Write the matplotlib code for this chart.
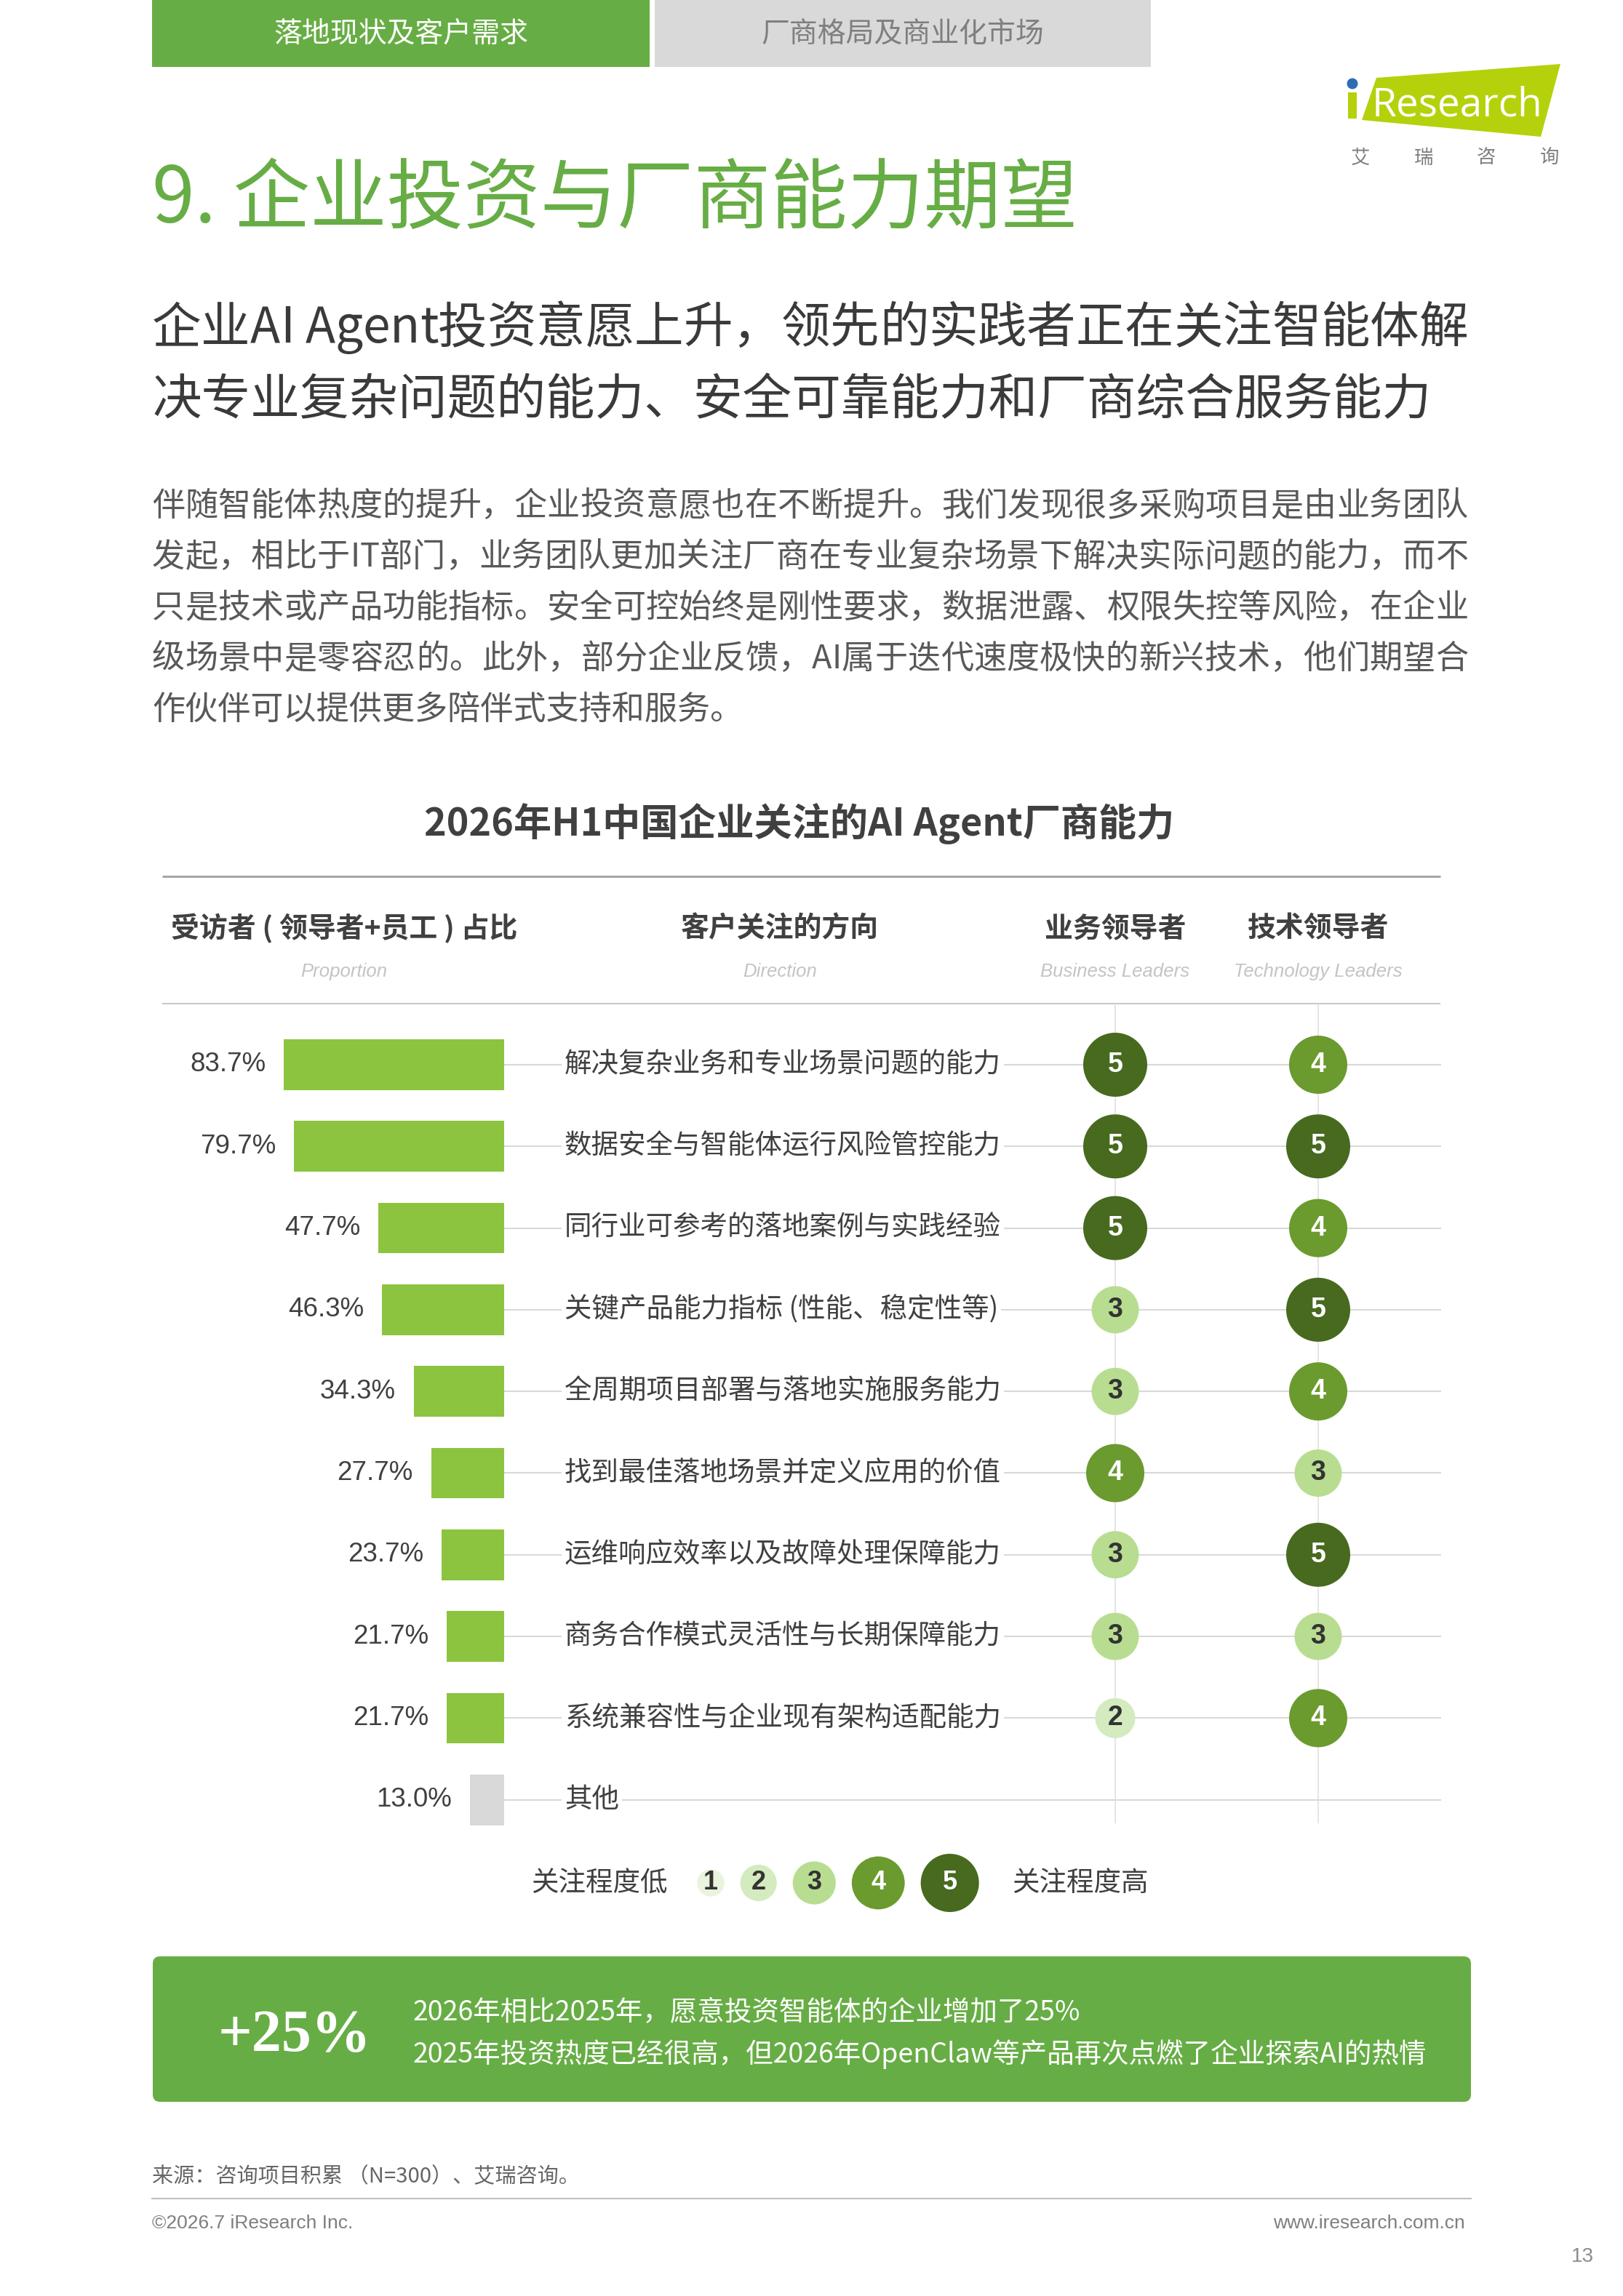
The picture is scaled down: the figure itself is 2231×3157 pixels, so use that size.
import numpy as np
import matplotlib
matplotlib.use('Agg')
import matplotlib.pyplot as plt
from matplotlib.font_manager import FontProperties
from matplotlib.patches import Rectangle, Polygon, FancyBboxPatch, Circle

plt.rcParams['font.family'] = ['Noto Sans CJK SC', 'DejaVu Sans']

# ---- data ----
directions = ['解决复杂业务和专业场景问题的能力', '数据安全与智能体运行风险管控能力',
              '同行业可参考的落地案例与实践经验', '关键产品能力指标 (性能、稳定性等)',
              '全周期项目部署与落地实施服务能力', '找到最佳落地场景并定义应用的价值',
              '运维响应效率以及故障处理保障能力', '商务合作模式灵活性与长期保障能力',
              '系统兼容性与企业现有架构适配能力', '其他']
proportion = [83.7, 79.7, 47.7, 46.3, 34.3, 27.7, 23.7, 21.7, 21.7, 13.0]
business_score = [5, 5, 5, 3, 3, 4, 3, 3, 2, None]
tech_score = [4, 5, 4, 5, 4, 3, 5, 3, 4, None]
levels = [1, 2, 3, 4, 5]

headers = ['受访者 ( 领导者+员工 ) 占比', '客户关注的方向', '业务领导者', '技术领导者']
headers_en = ['Proportion', 'Direction', 'Business Leaders', 'Technology Leaders']

subtitle = ['企业AI Agent投资意愿上升，领先的实践者正在关注智能体解',
            '决专业复杂问题的能力、安全可靠能力和厂商综合服务能力']
body = ['伴随智能体热度的提升，企业投资意愿也在不断提升。我们发现很多采购项目是由业务团队',
        '发起，相比于IT部门，业务团队更加关注厂商在专业复杂场景下解决实际问题的能力，而不',
        '只是技术或产品功能指标。安全可控始终是刚性要求，数据泄露、权限失控等风险，在企业',
        '级场景中是零容忍的。此外，部分企业反馈，AI属于迭代速度极快的新兴技术，他们期望合',
        '作伙伴可以提供更多陪伴式支持和服务。']

# ---- styling ----
W, H = 2231, 3157
GREEN = '#67AD45'
BAR = '#8CC43F'
TXT = '#404040'
level_color = {1: '#E9F4DF', 2: '#D3EBBE', 3: '#B8DD91', 4: '#6B9A2F', 5: '#476A1F'}
level_diam = {1: 41, 2: 55, 3: 65, 4: 80, 5: 88}   # px
num_font = 'Liberation Sans'


def fig_rect(x0, y0, x1, y1):
    return [x0 / W, 1 - y1 / H, (x1 - x0) / W, (y1 - y0) / H]


def msize(d):
    return (d * 0.72) ** 2


fig = plt.figure(figsize=(W / 100, H / 100), dpi=100)
fig.patch.set_facecolor('white')
page = fig.add_axes([0, 0, 1, 1])
page.set_xlim(0, W)
page.set_ylim(H, 0)
page.axis('off')
renderer = fig.canvas.get_renderer()


def justify(ax, x0, x1, y, line, size, **kw):
    # spread the characters so the line fills x0..x1 like the page layout
    fp = FontProperties(family=['Noto Sans CJK SC', 'DejaVu Sans'], size=size)

    def tw(s):
        return renderer.get_text_width_height_descent(s, fp, ismath=False)[0]

    ref = '中'
    w_rr = tw(ref + ref)
    w_r = tw(ref)
    adv = [tw(ref + ch + ref) - w_rr for ch in line]
    lsb = [a - (tw(ch + ref) - w_r) for ch, a in zip(line, adv)]
    extra = (x1 - x0 - sum(adv)) / (len(line) - 1)
    pen = x0
    for ch, a, b in zip(line, adv, lsb):
        if ch != ' ':
            ax.text(pen + b, y, ch, fontproperties=fp, ha='left', va='center', **kw)
        pen += a + extra


# tabs
page.add_patch(Rectangle((209, 0), 684, 92, color=GREEN, lw=0))
page.add_patch(Rectangle((900, 0), 682, 92, color='#D9D9D9', lw=0))
page.text(551, 47, '落地现状及客户需求', fontsize=28, color='white', ha='center', va='center')
page.text(1241, 47, '厂商格局及商业化市场', fontsize=28, color='#7F7F7F', ha='center', va='center')

# logo
page.add_patch(Polygon([(1892, 107), (2145, 88), (2118, 188), (1872, 165)], closed=True,
                       color='#B5D10B', lw=0))
page.add_patch(Rectangle((1853, 127), 12, 36, color='#B5D10B', lw=0))
page.add_patch(Circle((1859, 115), 7.5, color='#2E6DB4', lw=0))
page.text(1886, 160, 'Research', fontsize=39.5, color='white', family='Open Sans', va='baseline')
for ch, x in zip('艾瑞咨询', np.linspace(1870, 2130, 4)):
    page.text(x, 217, ch, fontsize=19, color='#7F7F7F', ha='center', va='center')

# title & subtitle
page.text(209, 276, '9. 企业投资与厂商能力期望', fontsize=76, color=GREEN, va='center')
justify(page, 209, 2018, 452, subtitle[0], 48.7, color='#3A3A3A')
page.text(209, 551, subtitle[1], fontsize=48.7, color='#3A3A3A', va='center')
for k, line in enumerate(body):
    y = 696 + 70 * k
    if k < len(body) - 1:
        justify(page, 209, 2018, y, line, 32.5, color='#595959')
    else:
        page.text(209, y, line, fontsize=32.5, color='#595959', va='center')

# chart title and header
page.text(1099, 1133, '2026年H1中国企业关注的AI Agent厂商能力', fontsize=37.5, weight='bold',
          color=TXT, ha='center', va='center')
page.plot([223, 1980], [1205, 1205], color='#A6A6A6', lw=2.2, solid_capstyle='butt')
page.plot([223, 1980], [1380, 1380], color='#C9C9C9', lw=1.5, solid_capstyle='butt')

# rows geometry
row0, step = 1464, 112.3
col_px = [1533, 1812]
rows = np.arange(len(directions))

hx = [473, 1072, col_px[0], col_px[1]]
for x, h, e in zip(hx, headers, headers_en):
    page.text(x, 1277, h, fontsize=28, weight='bold', color=TXT, ha='center', va='center')
    page.text(x, 1336, e, fontsize=18.5, style='italic', family=num_font, color='#C4C4C4',
              ha='center', va='center')

# ---- bar part ----
bar_right, bar_left, px_per_pct = 693, 230, 3.62
bx = fig.add_axes(fig_rect(bar_left, row0 - step / 2, bar_right,
                           row0 + step * (len(rows) - 0.5)))
bx.set_ylim(len(rows) - 0.5, -0.5)
bx.set_xlim((bar_right - bar_left) / px_per_pct, 0)
bx.axis('off')
bar_colors = [BAR] * (len(rows) - 1) + ['#D9D9D9']
bx.barh(rows, proportion, height=0.62, color=bar_colors, lw=0)
for i, v in zip(rows, proportion):
    bx.annotate(f'{v:.1f}%', xy=(v, i), xytext=(-18, 0), textcoords='offset points',
                ha='right', va='center', fontsize=26.5, family=num_font, color=TXT)

# ---- score part ----
d_top, d_bot, d_right = 1380, 2507, 1981
cs = col_px[1] - col_px[0]
dx = fig.add_axes(fig_rect(bar_right, d_top, d_right, d_bot))
dx.set_xlim(-(col_px[0] - bar_right) / cs, 1 + (d_right - col_px[1]) / cs)
dx.set_ylim((d_bot - row0) / step, (d_top - row0) / step)
dx.axis('off')
x0, x1 = dx.get_xlim()
dx.hlines(rows, x0, x1, color='#D9D9D9', lw=1.5, zorder=1)
for c in (0, 1):
    dx.axvline(c, color='#E0E0E0', lw=1.2, zorder=1)
for i, lab in zip(rows, directions):
    dx.annotate(lab, xy=(x0, i), xytext=(83 * 0.72, 0), textcoords='offset points',
                ha='left', va='center', fontsize=27, color=TXT, zorder=2,
                bbox=dict(boxstyle='square,pad=0.1', fc='white', ec='none'))
for c, scores in enumerate([business_score, tech_score]):
    for i, s in zip(rows, scores):
        if s is None:
            continue
        dx.scatter(c, i, s=msize(level_diam[s]), color=level_color[s], edgecolors='none',
                   zorder=3, clip_on=False)
        dx.text(c, i, str(s), fontsize=27, weight='bold', family=num_font,
                color='white' if s >= 4 else '#333333', ha='center', va='center', zorder=4)

# ---- legend ----
leg_y, leg_gap, leg_scale = 2589, 22, 0.91
lx = [977]
for a, b in zip(levels[:-1], levels[1:]):
    lx.append(lx[-1] + (level_diam[a] + level_diam[b]) * leg_scale / 2 + leg_gap)
for x, lv in zip(lx, levels):
    page.scatter(x, leg_y, s=msize(level_diam[lv] * leg_scale), color=level_color[lv],
                 edgecolors='none', zorder=3)
    page.text(x, leg_y, str(lv), fontsize=26, weight='bold', family=num_font,
              color='white' if lv >= 4 else '#333333', ha='center', va='center', zorder=4)
page.text(lx[0] - 59, leg_y, '关注程度低', fontsize=27, color=TXT, ha='right', va='center')
page.text(lx[-1] + 86, leg_y, '关注程度高', fontsize=27, color=TXT, ha='left', va='center')

# ---- green box ----
page.add_patch(FancyBboxPatch((210, 2690), 1812, 200, boxstyle='round,pad=0,rounding_size=10',
                              color=GREEN, lw=0))
page.text(405, 2800, '+25%', fontsize=59, weight='bold', family='Liberation Serif',
          color='white', ha='center', va='center')
page.text(568, 2767, '2026年相比2025年，愿意投资智能体的企业增加了25%', fontsize=27,
          color='white', va='center')
page.text(568, 2825, '2025年投资热度已经很高，但2026年OpenClaw等产品再次点燃了企业探索AI的热情',
          fontsize=27, color='white', va='center')

# ---- footer ----
page.text(209, 2993, '来源：咨询项目积累 （N=300）、艾瑞咨询。', fontsize=21, color='#666666',
          va='center')
page.plot([209, 2022], [3023, 3023], color='#BFBFBF', lw=1.5)
page.text(209, 3057, '©2026.7 iResearch Inc.', fontsize=19, family=num_font, color='#7F7F7F',
          va='center')
page.text(2014, 3057, 'www.iresearch.com.cn', fontsize=19, family=num_font, color='#7F7F7F',
          ha='right', va='center')
page.text(2175, 3103, '13', fontsize=20, family=num_font, color='#8C8C8C', ha='center',
          va='center')

fig.savefig('out.png', dpi=100, facecolor='white')
